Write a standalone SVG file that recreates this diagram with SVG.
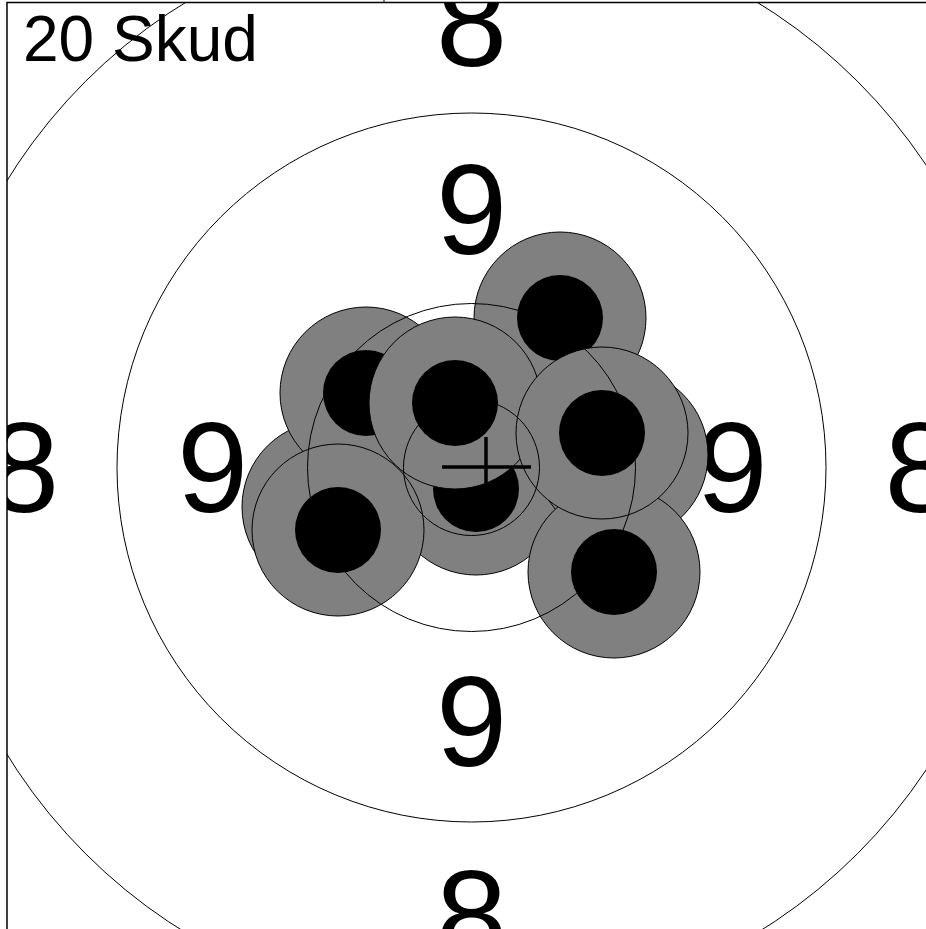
<svg xmlns="http://www.w3.org/2000/svg" width="926" height="929" viewBox="0 0 926 929">
<defs>
<style>
.ring{fill:none;stroke:#000;stroke-width:1}
.shot{fill:#808080;stroke:#000;stroke-width:1}
.core{fill:#000;stroke:none}
.num{font-family:"Liberation Sans",Arial,sans-serif;font-size:128px;fill:#000;text-anchor:middle}
.title{font-family:"Liberation Sans",Arial,sans-serif;font-size:64px;fill:#000}
.cross{stroke:#000;stroke-width:3.5;fill:none}
</style>
<clipPath id="area"><rect x="7" y="2.5" width="919" height="927"/></clipPath>
</defs>
<rect width="926" height="929" fill="#fff"/>
<g clip-path="url(#area)">
<g id="labels">
<text class="num" x="471.5" y="65.5">8</text>
<text class="num" x="471.5" y="253.5">9</text>
<text class="num" x="212.5" y="511.5">9</text>
<text class="num" x="732" y="511.5">9</text>
<text class="num" x="23.5" y="511.5">8</text>
<text class="num" x="920" y="511.5">8</text>
<text class="num" x="471.5" y="766">9</text>
<text class="num" x="471.5" y="960">8</text>
</g>
<g id="shots">
<g id="shot-h"><circle class="shot" cx="328" cy="507" r="86"/><circle class="core" cx="328" cy="507" r="43"/></g>
<g id="shot-b"><circle class="shot" cx="366" cy="393" r="86"/><circle class="core" cx="366" cy="393" r="43"/></g>
<g id="shot-a"><circle class="shot" cx="560" cy="318" r="86"/><circle class="core" cx="560" cy="318" r="43"/></g>
<g id="shot-i"><circle class="shot" cx="476" cy="489" r="86"/><circle class="core" cx="476" cy="489" r="43"/></g>
<g id="shot-c"><circle class="shot" cx="455" cy="403" r="86"/><circle class="core" cx="455" cy="403" r="43"/></g>
<g id="shot-e"><circle class="shot" cx="622" cy="455" r="86"/><circle class="core" cx="622" cy="455" r="43"/></g>
<g id="shot-f"><circle class="shot" cx="614" cy="572" r="86"/><circle class="core" cx="614" cy="572" r="43"/></g>
<g id="shot-d"><circle class="shot" cx="602" cy="433" r="86"/><circle class="core" cx="602" cy="433" r="43"/></g>
<g id="shot-g"><circle class="shot" cx="338" cy="530" r="86"/><circle class="core" cx="338" cy="530" r="43"/></g>
</g>
<g id="rings">
<circle class="ring" cx="471.5" cy="467.5" r="546"/>
<circle class="ring" cx="471.5" cy="467.5" r="354.5"/>
<circle class="ring" cx="471.5" cy="467.5" r="164"/>
<circle class="ring" cx="471.5" cy="467.5" r="68"/>
</g>
<g id="crosshair">
<line class="cross" x1="442" y1="467" x2="531" y2="467"/>
<line class="cross" x1="486" y1="437" x2="486" y2="483"/>
</g>
<text class="title" x="23" y="61">20 Skud</text>
</g>
<g id="frame" fill="none" stroke="#000" stroke-width="1.5">
<path d="M926 2.5 H7 V929"/>
<line x1="384" y1="0" x2="384" y2="2.5" stroke-width="1"/>
</g>
</svg>
